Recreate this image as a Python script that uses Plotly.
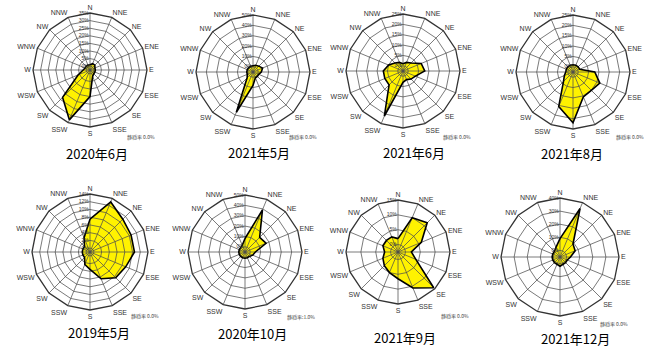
import plotly.graph_objects as go

# 16-point compass directions, clockwise from north
directions = ["N", "NNE", "NE", "ENE", "E", "ESE", "SE", "SSE",
              "S", "SSW", "SW", "WSW", "W", "WNW", "NW", "NNW"]

# Monthly wind-direction frequency (%) per direction
titles = ["2020年6月", "2021年5月", "2021年6月", "2021年8月",
          "2019年5月", "2020年10月", "2021年9月", "2021年12月"]

freq_2020_06 = [1, 2, 2, 1, 1, 1, 1, 2, 15, 33, 23, 6, 2, 1, 1, 1]
freq_2021_05 = [1, 2, 3, 5, 3, 1, 1, 1, 8, 37, 3, 1, 1, 1, 1, 1]
freq_2021_06 = [1, 2, 3, 7, 8, 4, 3, 2, 3, 21, 7, 7, 7, 5, 3, 2]
freq_2021_08 = [1, 1, 1, 1, 8, 11.5, 10, 10.5, 22, 15.5, 4, 2, 1, 1, 1, 1]
freq_2019_05 = [7.5, 13, 11, 10.5, 10.5, 9, 8.4, 6.5, 3.5, 2.5, 1, 1, 1, 1, 1, 3]
freq_2020_10 = [8, 39, 15, 17, 5, 3, 1, 1, 1, 1, 1, 1, 1, 1, 1, 2]
freq_2021_09 = [2, 10, 11.4, 6, 2, 4, 14.5, 10.6, 6.5, 5, 4, 3, 2, 3, 3, 3]
freq_2021_12 = [9, 35, 9, 7.5, 3, 1, 1, 1, 2, 1, 1, 1, 1, 1, 1, 3]

series = [freq_2020_06, freq_2021_05, freq_2021_06, freq_2021_08,
          freq_2019_05, freq_2020_10, freq_2021_09, freq_2021_12]

# Radial scale of each rose: (max %, ring step %)
scale_max = [35, 50, 25, 25, 14, 50, 15, 40]
scale_step = [5, 10, 5, 5, 2, 10, 5, 10]

# Calm-rate notes
calm_text = ["静穏率 0.0%", "静穏率 0.0%", "静穏率 0.0%", "静穏率 0.0%",
             "静穏率 0.0%", "静穏率:1.0%", "静穏率 0.0%", "静穏率 0.0%"]

W, H = 653, 347
# Placement of each rose: centre (px) and radius (px)
centres = [(90, 70), (253, 72), (403, 71), (573, 72),
           (90, 252), (245, 252), (398, 252), (560, 257)]
radii = [57, 57, 57, 57, 58, 57, 52, 59]
title_pos = [(97, 153), (259, 152), (414, 152), (572, 153),
             (99, 332), (252, 333), (405, 337), (575, 338)]
calm_pos = [(141, 137), (303, 137), (457, 137), (630, 137),
            (145, 316), (301, 317), (455, 316), (614, 324)]

YELLOW = "#FFF200"
GRID = "#4d4d4d"
FONT = "Liberation Sans, Arial, sans-serif"
CJK = "Noto Sans CJK JP"

fig = go.Figure()
layout = dict(
    width=W, height=H,
    margin=dict(l=0, r=0, t=0, b=0),
    paper_bgcolor="white",
    showlegend=False,
    annotations=[],
)

for i, vals in enumerate(series):
    pid = "polar" if i == 0 else f"polar{i + 1}"
    mx, st = scale_max[i], scale_step[i]
    r0 = -0.5 * st
    ticks = list(range(0, mx + 1, st))

    # filled frequency polygon
    fig.add_trace(go.Scatterpolar(
        r=vals + [vals[0]], theta=directions + [directions[0]],
        mode="lines", fill="toself", fillcolor=YELLOW,
        line=dict(width=0), subplot=pid, hoverinfo="skip",
    ))
    # web drawn over the fill: rings and spokes
    for t in ticks[:-1]:
        fig.add_trace(go.Scatterpolar(
            r=[t] * 17, theta=directions + [directions[0]],
            mode="lines", line=dict(color=GRID, width=0.75),
            subplot=pid, hoverinfo="skip",
        ))
    for d in directions:
        fig.add_trace(go.Scatterpolar(
            r=[r0, mx], theta=[d, d],
            mode="lines", line=dict(color=GRID, width=0.75),
            subplot=pid, hoverinfo="skip",
        ))
    # polygon outline
    fig.add_trace(go.Scatterpolar(
        r=vals + [vals[0]], theta=directions + [directions[0]],
        mode="lines", line=dict(color="black", width=1.6),
        subplot=pid, hoverinfo="skip",
    ))

    cx, cy = centres[i]
    R = radii[i]
    layout[pid] = dict(
        domain=dict(x=[(cx - R) / W, (cx + R) / W],
                    y=[1 - (cy + R) / H, 1 - (cy - R) / H]),
        gridshape="linear",
        bgcolor="rgba(0,0,0,0)",
        angularaxis=dict(
            type="category",
            categoryarray=directions,
            direction="clockwise",
            rotation=90,
            showline=True,
            linecolor="#333333",
            linewidth=1.3,
            showgrid=False,
            ticks="",
            tickfont=dict(size=7, color="#333333", family=FONT),
            layer="above traces",
        ),
        radialaxis=dict(
            range=[r0, mx],
            tickvals=ticks,
            ticktext=[f"{t}%" for t in ticks],
            angle=90,
            tickangle=90,
            side="counterclockwise",
            showline=False,
            showgrid=False,
            ticks="",
            tickfont=dict(size=5, color="#333333", family=FONT),
            layer="above traces",
        ),
    )
    tx, ty = title_pos[i]
    layout["annotations"].append(dict(
        x=tx / W, y=1 - ty / H, xref="paper", yref="paper",
        text=titles[i], showarrow=False,
        font=dict(size=13, color="black", family=CJK),
        xanchor="center", yanchor="middle",
    ))
    kx, ky = calm_pos[i]
    layout["annotations"].append(dict(
        x=kx / W, y=1 - ky / H, xref="paper", yref="paper",
        text=calm_text[i], showarrow=False,
        font=dict(size=5, color="#444444", family=CJK),
        xanchor="center", yanchor="middle",
    ))

fig.update_layout(**layout)
fig.write_html("out.html")
